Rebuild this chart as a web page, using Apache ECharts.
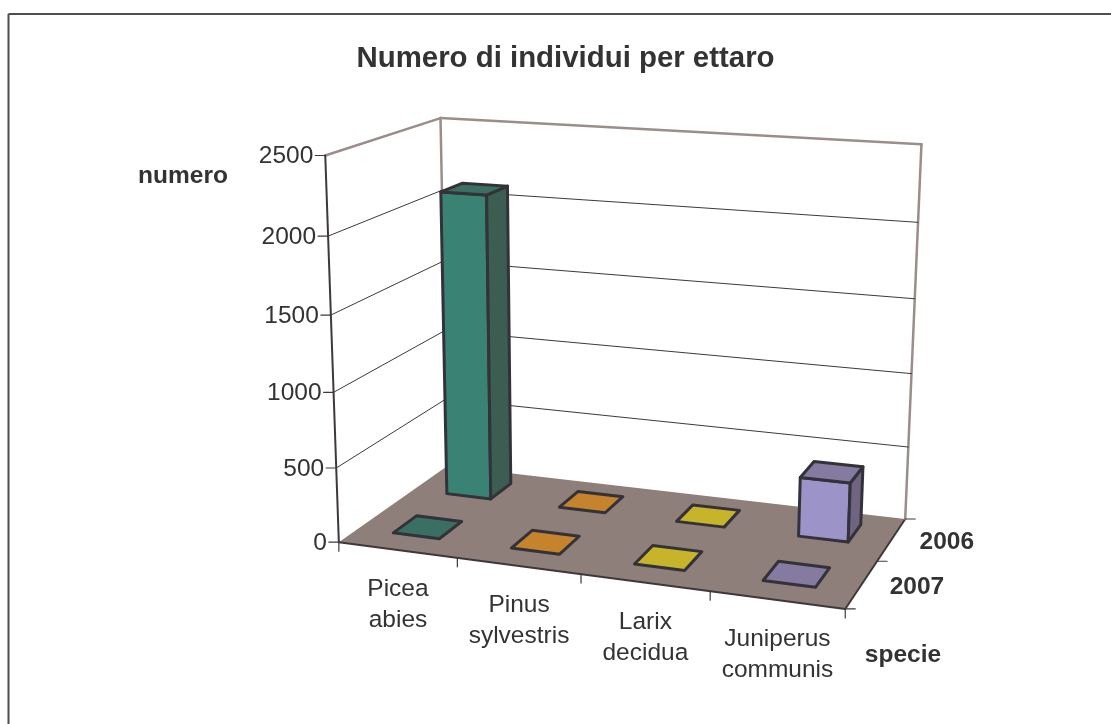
<!DOCTYPE html>
<html><head><meta charset="utf-8">
<style>html,body{margin:0;padding:0;background:#fff}#c{width:1111px;height:724px}</style>
<script src="https://cdn.jsdelivr.net/npm/echarts@6/dist/echarts.min.js"></script>
</head><body><div id="c"></div>
<script>
// ---- data ----
const categories = ['Picea\nabies', 'Pinus\nsylvestris', 'Larix\ndecidua', 'Juniperus\ncommunis'];
const years = ['2007', '2006'];           // front row, back row
const values2006 = [2100, 0, 0, 400];
const values2007 = [0, 0, 0, 0];
const yTicks = [0, 500, 1000, 1500, 2000, 2500];
const titleText = 'Numero di individui per ettaro';
const yName = 'numero';
const depthName = 'specie';
const faceColors = ['#3a8274', '#c5832b', '#c8b42a', '#9c93c8'];
const topColors  = ['#3a6f62', '#c5832b', '#c8b42a', '#857aa0'];
const sideColors = ['#3c5d52', '#94621f', '#968720', '#6f6583'];

// ---- camera: projective map of the unit box (u along species, v depth, h height) ----
const calib = [
  [0,0,0,339,541],[1,0,0,846,610],[1,1,0,906,518],[0,1,0,447,467],
  [0,0,1,325,156],[0,1,1,441,117],[1,1,1,922,144],
  [0,0,.8,328,236],[0,1,.8,442,191],[1,1,.8,917,223],[1,.5,0,876,561]
];
function solveCamera(pts){
  const A=[],B=[];
  pts.forEach(([u,v,h,x,y])=>{
    A.push([1,u,v,h,0,0,0,0,-x*u,-x*v,-x*h]);B.push(x);
    A.push([0,0,0,0,1,u,v,h,-y*u,-y*v,-y*h]);B.push(y);
  });
  const n=11,M=[];
  for(let i=0;i<n;i++){M.push([]);for(let j=0;j<n;j++){let s=0;A.forEach(r=>s+=r[i]*r[j]);M[i].push(s);}
    let s=0;A.forEach((r,k)=>s+=r[i]*B[k]);M[i].push(s);}
  for(let i=0;i<n;i++){let p=i;for(let k=i+1;k<n;k++)if(Math.abs(M[k][i])>Math.abs(M[p][i]))p=k;
    [M[i],M[p]]=[M[p],M[i]];
    for(let k=0;k<n;k++){if(k===i)continue;const f=M[k][i]/M[i][i];for(let j=i;j<=n;j++)M[k][j]-=f*M[i][j];}}
  return M.map((r,i)=>r[n]/r[i]);
}
const cam=solveCamera(calib);
function proj(u,v,h){
  const w=1+cam[8]*u+cam[9]*v+cam[10]*h;
  return [(cam[0]+cam[1]*u+cam[2]*v+cam[3]*h)/w,(cam[4]+cam[5]*u+cam[6]*v+cam[7]*h)/w];
}
const INK='#333238', WALL='#9a8d8a', FLOOR='#8e7f7a', LINE='#3f383a';
const TXT='#333333', FONT='"Liberation Sans", Arial, sans-serif', FS='24.5px ';
const seg=(a,b,color,w)=>({type:'line',shape:{x1:a[0],y1:a[1],x2:b[0],y2:b[1]},style:{stroke:color,lineWidth:w,lineCap:'round'}});
const poly=(pts,fill,stroke,w)=>({type:'polygon',shape:{points:pts},style:{fill,stroke,lineWidth:w,lineJoin:'round'}});

// fraction of the axis range, read through the (hidden) cartesian axes
function frac(params,api,cat,val){
  const cs=params.coordSys,p=api.coord([cat,val]);
  return {u:(p[0]-cs.x)/cs.width,h:1-(p[1]-cs.y)/cs.height,band:api.size([1,0])[0]/cs.width};
}
const BAR_W=0.395, BAR_D=0.42, ROW_SHIFT=0.02;

function renderBackdrop(params,api){
  const f=frac(params,api,0,api.value(1)),h=f.h,kids=[];
  if(params.dataIndex===0){
    kids.push(poly([proj(0,0,0),proj(1,0,0),proj(1,1,0),proj(0,1,0)],FLOOR,null,0));
    kids.push(seg(proj(0,0,0),proj(1,0,0),LINE,2));
    kids.push(seg(proj(1,0,0),proj(1,1,0),LINE,2));
    kids.push(seg(proj(0,1,0),proj(0,1,1),WALL,2.5));
    kids.push(seg(proj(1,1,0),proj(1,1,1),WALL,2.5));
    kids.push(seg(proj(0,0,1),proj(0,1,1),WALL,2.5));
    kids.push(seg(proj(0,1,1),proj(1,1,1),WALL,2.5));
    kids.push(seg(proj(0,0,0),proj(0,0,1),LINE,2));
    [0,.25,.5,.75,1].forEach(u=>{const a=proj(u,0,0);kids.push(seg(a,[a[0],a[1]+9],LINE,1.2));});
    [0,.5,1].forEach(v=>{const a=proj(1,v,0);kids.push(seg(a,[a[0]+10,a[1]],LINE,1.2));});
  } else if(params.dataIndex<yTicks.length-1){
    kids.push(seg(proj(0,0,h),proj(0,1,h),LINE,1));
    kids.push(seg(proj(0,1,h),proj(1,1,h),LINE,1));
  }
  const a=proj(0,0,h);
  kids.push(seg(a,[a[0]-10,a[1]],LINE,1.2));
  kids.push({type:'text',style:{x:a[0]-12,y:a[1]+1,text:String(api.value(1)),fill:TXT,font:FS+FONT,align:'right',verticalAlign:'middle'}});
  return {type:'group',children:kids};
}
function renderBars(row){
  return function(params,api){
    const i=api.value(0),f=frac(params,api,i,api.value(1));
    const du=f.band*BAR_W/2, dv=BAR_D/4, vc=(row+.5)/2+ROW_SHIFT;
    const u0=f.u-du,u1=f.u+du,v0=vc-dv,v1=vc+dv,h=f.h;
    const kids=[];
    if(h>0){
      kids.push(poly([proj(u0,v0,0),proj(u1,v0,0),proj(u1,v0,h),proj(u0,v0,h)],faceColors[i],INK,3));
      kids.push(poly([proj(u1,v0,0),proj(u1,v1,0),proj(u1,v1,h),proj(u1,v0,h)],sideColors[i],INK,3));
    }
    kids.push(poly([proj(u0,v0,h),proj(u1,v0,h),proj(u1,v1,h),proj(u0,v1,h)],topColors[i],INK,3));
    return {type:'group',children:kids};
  };
}
function renderCatLabels(params,api){
  const i=params.dataIndex,f=frac(params,api,i,0),a=proj(f.u,0,0);
  return {type:'text',style:{x:a[0]+0.5,y:a[1]+55,text:categories[i],fill:TXT,font:FS+FONT,align:'center',verticalAlign:'middle',lineHeight:31.5}};
}
function renderYears(params,api){
  const i=params.dataIndex,a=proj(1,(i+.5)/2,0);
  return {type:'text',style:{x:a[0]+28,y:a[1]+2.5,text:years[i],fill:TXT,font:'bold '+FS+FONT,align:'left',verticalAlign:'middle'}};
}

const chart=echarts.init(document.getElementById('c'),null,{renderer:'canvas'});
chart.setOption({
  animation:false,
  backgroundColor:'#ffffff',
  title:{text:titleText,left:560.5,top:39,textAlign:'center',textStyle:{fontFamily:FONT,fontSize:29.4,fontWeight:'bold',color:TXT}},
  grid:{left:0,top:0,right:0,bottom:0,show:false},
  xAxis:{type:'category',data:categories,show:false},
  yAxis:{type:'value',min:0,max:2500,interval:500,show:false},
  tooltip:{show:false},
  graphic:[
    {type:'line',shape:{x1:8.5,y1:14,x2:1111,y2:14},style:{stroke:'#4f4f4f',lineWidth:2}},
    {type:'line',shape:{x1:8.5,y1:14,x2:8.5,y2:724},style:{stroke:'#4f4f4f',lineWidth:2}},
    {type:'text',style:{x:183,y:176,text:yName,fill:TXT,font:'bold '+FS+FONT,align:'center',verticalAlign:'middle'}},
    {type:'text',style:{x:903,y:655,text:depthName,fill:TXT,font:'bold '+FS+FONT,align:'center',verticalAlign:'middle'}}
  ],
  series:[
    {type:'custom',name:'assi',renderItem:renderBackdrop,data:yTicks.map(t=>[0,t]),encode:{x:0,y:1},silent:true,z:1},
    {type:'custom',name:'2006',renderItem:renderBars(1),data:values2006.map((v,i)=>[i,v]),encode:{x:0,y:1},silent:true,z:2},
    {type:'custom',name:'2007',renderItem:renderBars(0),data:values2007.map((v,i)=>[i,v]),encode:{x:0,y:1},silent:true,z:3},
    {type:'custom',name:'specie',renderItem:renderCatLabels,data:categories.map((c,i)=>[i,0]),encode:{x:0,y:1},silent:true,z:4},
    {type:'custom',name:'anni',renderItem:renderYears,data:years.map((c,i)=>[0,0]),encode:{x:0,y:1},silent:true,z:4}
  ]
});
</script></body></html>
